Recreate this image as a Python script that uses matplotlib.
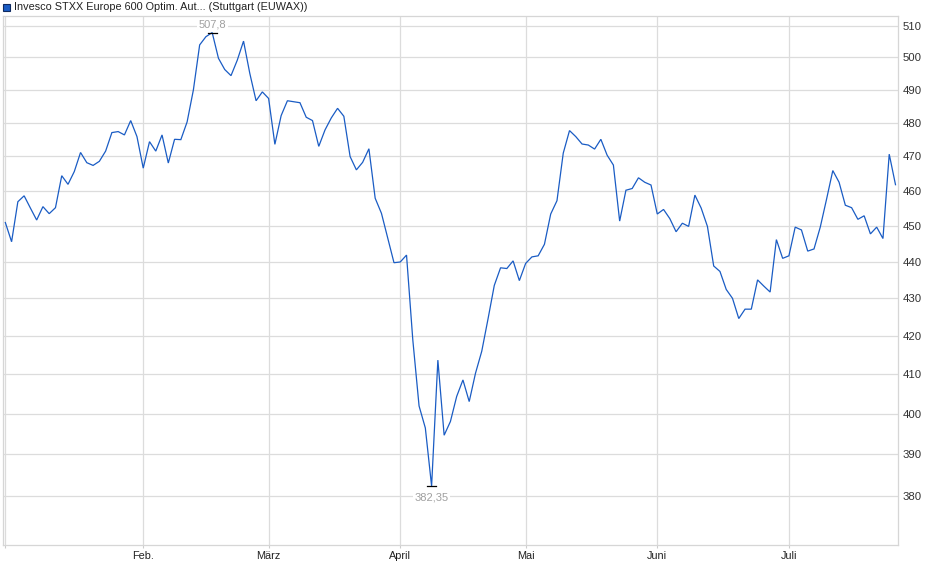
import matplotlib
matplotlib.use("Agg")
import matplotlib.pyplot as plt
import matplotlib.ticker as mticker
from matplotlib.patches import Rectangle
import numpy as np
import pandas as pd

plt.rcParams['font.family'] = ['Liberation Sans', 'DejaVu Sans']

# ---- data -------------------------------------------------------------
title = "Invesco STXX Europe 600 Optim. Aut... (Stuttgart (EUWAX))"
start_date = "2025-01-02"
end_date = "2025-07-24"
holidays = ["2025-01-01", "2025-04-18", "2025-04-21", "2025-05-01"]
month_labels = ["", "Feb.", "März", "April", "Mai", "Juni", "Juli"]
y_ticks = [380, 390, 400, 410, 420, 430, 440, 450, 460, 470, 480, 490, 500, 510]

prices = [
    450.9, 445.5, 456.8, 458.5, 455.0, 451.6, 455.4, 453.4, 455.1, 464.3,
    461.8, 465.5, 471.1, 468.1, 467.3, 468.5, 471.5, 477.0, 477.3, 476.3,
    480.6, 475.8, 466.5, 474.3, 471.5, 476.3, 468.0, 475.0, 474.9, 480.2,
    489.9, 503.9, 506.5, 507.8, 499.7, 496.2, 494.3, 499.1, 505.1, 495.0,
    486.6, 489.3, 487.3, 473.5, 482.1, 486.6, 486.3, 486.0, 481.6, 480.6,
    472.9, 477.8, 481.4, 484.3, 481.9, 469.9, 466.0, 468.2, 472.2, 457.8,
    453.5, 446.5, 439.7, 439.9, 441.8, 419.0, 402.0, 396.5, 382.35, 413.7,
    394.7, 398.1, 404.4, 408.6, 403.1, 410.3, 416.0, 424.5, 433.5, 438.3,
    438.1, 440.2, 434.8, 439.5, 441.3, 441.6, 444.8, 453.3, 457.1, 470.9,
    477.6, 475.8, 473.6, 473.3, 472.1, 475.0, 470.3, 467.4, 451.3, 460.1,
    460.6, 463.7, 462.4, 461.6, 453.3, 454.6, 452.0, 448.3, 450.7, 449.8,
    458.7, 455.0, 449.8, 438.8, 437.3, 432.4, 430.0, 424.6, 427.1, 427.1,
    435.0, 433.3, 431.7, 446.1, 440.9, 441.6, 449.6, 448.8, 442.9, 443.5,
    449.6, 457.5, 465.8, 462.4, 455.8, 455.1, 451.8, 452.8, 447.7, 449.6,
    446.4, 470.6, 461.7,
]

# ---- derived ----------------------------------------------------------
dates = pd.bdate_range(start_date, end_date, freq="C", holidays=holidays)
n = min(len(dates), len(prices))
dates = dates[:n]
y = np.array(prices[:n])
x = np.arange(n)
months = dates.month
month_starts = [i for i in range(n) if i == 0 or months[i] != months[i - 1]]

W, H = 940, 579
fig = plt.figure(figsize=(W / 100, H / 100), dpi=100)
ax = fig.add_axes([3 / W, 1 - 545 / H, (898 - 3) / W, (545 - 16) / H])

line_col = "#1a5cc4"
grid_col = "#dcdcdc"

ax.plot(x, y, color=line_col, lw=0.9, zorder=3, solid_joinstyle="miter")

ax.set_yscale("log")
ax.set_ylim(368.5, 513.1)
ax.set_xlim(-0.37, n - 1 + 0.4)

ax.yaxis.set_major_locator(mticker.FixedLocator(y_ticks))
ax.yaxis.set_minor_locator(mticker.NullLocator())
ax.yaxis.set_major_formatter(mticker.FuncFormatter(lambda v, p: f"{v:.0f}"))
ax.yaxis.tick_right()
ax.tick_params(axis="y", length=0, pad=3.2, labelsize=8.2, labelcolor="#333333")

ax.set_xticks(month_starts)
ax.set_xticklabels(month_labels[:len(month_starts)])
ax.tick_params(axis="x", length=2.5, width=0.8, color="#cccccc", pad=1.5,
               labelsize=7.8, labelcolor="#222222")

ax.grid(True, which="major", color=grid_col, lw=0.9, zorder=0)
for s in ax.spines.values():
    s.set_color("#d6d6d6")
    s.set_linewidth(0.9)

# max / min markers
imax = int(np.argmax(y))
imin = int(np.argmin(y))
for i, va, off in [(imax, "bottom", 2), (imin, "top", -4.5)]:
    ax.plot([i - 0.7, i + 0.7], [y[i], y[i]], color="black", lw=0.9, zorder=4)
    lab = f"{y[i]:g}".replace(".", ",")
    ax.annotate(lab, (i, y[i]), xytext=(0, off), textcoords="offset points",
                ha="center", va=va, fontsize=8, color="#a0a0a0", zorder=5,
                bbox=dict(boxstyle="square,pad=0.15", fc="white", ec="none"))

# legend
fig.patches.append(Rectangle((3 / W, 1 - 11 / H), 7 / W, 7 / H,
                             transform=fig.transFigure, facecolor=line_col,
                             edgecolor="#102a60", lw=0.8))
fig.text(14 / W, 1 - 7.5 / H, title, fontsize=7.8, color="#222222",
         ha="left", va="center")

fig.savefig("out.png", dpi=100)
